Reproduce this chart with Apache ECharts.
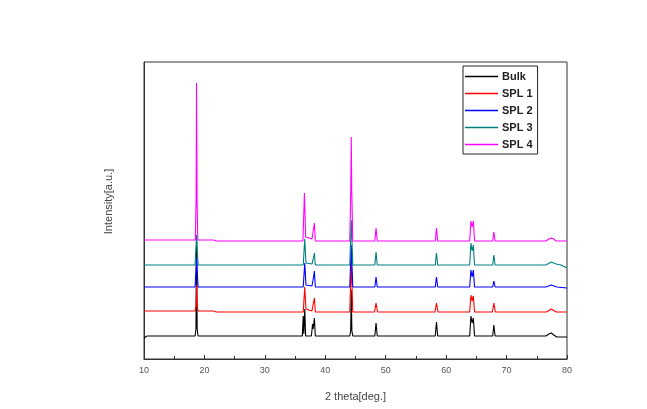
<!DOCTYPE html>
<html>
<head>
<meta charset="utf-8">
<script src="https://cdn.jsdelivr.net/npm/echarts@6/dist/echarts.min.js"></script>
<style>
html,body{margin:0;padding:0;background:#fff;}
#chart{width:647px;height:409px;}
</style>
</head>
<body>
<div id="chart"></div>
<script>
// Series names
const seriesNames = ['Bulk', 'SPL 1', 'SPL 2', 'SPL 3', 'SPL 4'];
// x tick labels (2 theta)
const xTicks = [10, 20, 30, 40, 50, 60, 70, 80];

// [2theta, intensity (arbitrary, offset per pattern)]
const bulkData = [[10,21],[10.5,23],[18.45,23],[18.6,30],[18.7,121],[18.8,30],[18.95,23],[36.2,23],[36.35,43],[36.45,25],[36.6,50],[36.75,23],[37.7,23],[37.9,35],[38.0,30],[38.2,41],[38.35,23],[44.05,23],[44.2,28],[44.3,69],[44.4,28],[44.55,23],[48.2,23],[48.4,36],[48.6,23],[58.2,23],[58.4,37],[58.6,23],[63.9,23],[64.1,43],[64.3,36],[64.5,41],[64.7,23],[67.7,23],[67.9,34],[68.1,23],[76.5,23],[77.0,25],[77.4,26],[77.8,24],[78.3,22],[80,22]];
const spl1Data = [[10,48],[18.45,48],[18.6,53],[18.7,74],[18.8,53],[18.95,48],[21.5,48],[22,47],[36.35,47],[36.6,72],[36.8,50],[37.8,48],[38.0,55],[38.2,61],[38.35,47],[44.05,47],[44.3,97],[44.55,47],[48.15,47],[48.4,56],[48.65,47],[58.15,47],[58.4,56],[58.65,47],[63.9,47],[64.1,64],[64.3,58],[64.5,63],[64.7,47],[67.65,47],[67.9,56],[68.15,47],[76.6,47],[77.4,50],[78.2,47],[80,47]];
const spl2Data = [[10,72],[18.45,72],[18.7,101],[18.95,72],[36.35,72],[36.6,96],[36.8,74],[37.8,73],[38.0,80],[38.2,88],[38.35,72],[44.05,72],[44.3,114],[44.55,72],[48.2,72],[48.4,82],[48.6,72],[58.2,72],[58.4,82],[58.6,72],[63.9,72],[64.1,89],[64.3,82],[64.5,89],[64.7,72],[67.7,72],[67.9,78],[68.1,72],[76.5,72],[77.4,74],[78.3,72],[80,71]];
const spl3Data = [[10,94],[18.45,94],[18.7,124],[18.95,94],[36.35,94],[36.6,120],[36.8,96],[37.8,95],[38.0,100],[38.2,106],[38.35,94],[44.05,94],[44.3,139],[44.55,94],[48.2,94],[48.4,107],[48.6,94],[58.2,94],[58.4,106],[58.6,94],[63.9,94],[64.1,116],[64.3,108],[64.5,114],[64.7,94],[67.7,94],[67.9,104],[68.1,94],[76.5,94],[77.4,97],[78.2,95],[79,94],[80,91]];
const spl4Data = [[10,119],[18.5,119],[18.62,160],[18.7,276],[18.78,160],[18.9,119],[21.5,119],[22,118],[36.3,118],[36.55,166],[36.75,122],[37.8,120],[38.0,128],[38.2,136],[38.35,118],[44.05,118],[44.22,169],[44.3,222],[44.38,169],[44.55,118],[48.2,118],[48.4,131],[48.6,118],[58.2,118],[58.4,131],[58.6,118],[63.9,118],[64.1,138],[64.3,132],[64.5,138],[64.7,118],[67.7,118],[67.9,127],[68.1,118],[76.5,118],[77.0,120],[77.4,121],[77.8,120],[78.2,118],[80,118]];

const seriesData = [bulkData, spl1Data, spl2Data, spl3Data, spl4Data];
const colors = ['#000000', '#ff0000', '#0000ff', '#008080', '#ff00ff'];

const chart = echarts.init(document.getElementById('chart'), null, {renderer: 'canvas'});
const font = 'Liberation Sans, Arial, sans-serif';
chart.setOption({
  backgroundColor: '#ffffff',
  animation: false,
  grid: {left: 144, right: 80, top: 62, bottom: 50, show: true, borderColor: '#333', borderWidth: 1},
  legend: {
    orient: 'vertical', left: 463, top: 66,
    data: seriesNames,
    icon: 'rect', itemWidth: 33, itemHeight: 1.5, itemGap: 6,
    padding: [5, 5, 4, 2],
    borderColor: '#222', borderWidth: 1,
    backgroundColor: '#fff',
    textStyle: {fontFamily: font, fontWeight: 'bold', fontSize: 11, color: '#222', width: 41, padding: [0,0,0,-1]}
  },
  xAxis: {
    type: 'value', min: xTicks[0], max: xTicks[xTicks.length-1], interval: 10,
    name: '2 theta[deg.]', nameLocation: 'middle', nameGap: 32,
    nameTextStyle: {fontFamily: font, fontSize: 11, color: '#444'},
    axisLine: {lineStyle: {color: '#333', width: 1}},
    axisTick: {inside: true, length: 4, lineStyle: {color: '#333'}},
    minorTick: {show: true, splitNumber: 2, length: 3, lineStyle: {color: '#333'}},
    axisLabel: {fontFamily: font, fontSize: 9, color: '#555', margin: 7},
    splitLine: {show: false}
  },
  yAxis: {
    type: 'value', min: 0, max: 297,
    name: 'Intensity[a.u.]', nameLocation: 'middle', nameGap: 30,
    nameTextStyle: {fontFamily: font, fontSize: 11, color: '#444', padding: [0, 0, 0, 18]},
    axisLine: {show: true, lineStyle: {color: '#333'}},
    axisTick: {show: false}, axisLabel: {show: false}, splitLine: {show: false}
  },
  series: seriesNames.map((n, i) => ({
    name: n, type: 'line', data: seriesData[i], showSymbol: false, symbol: 'none',
    color: colors[i], lineStyle: {width: 1.1, color: colors[i]}
  }))
});
</script>
</body>
</html>
